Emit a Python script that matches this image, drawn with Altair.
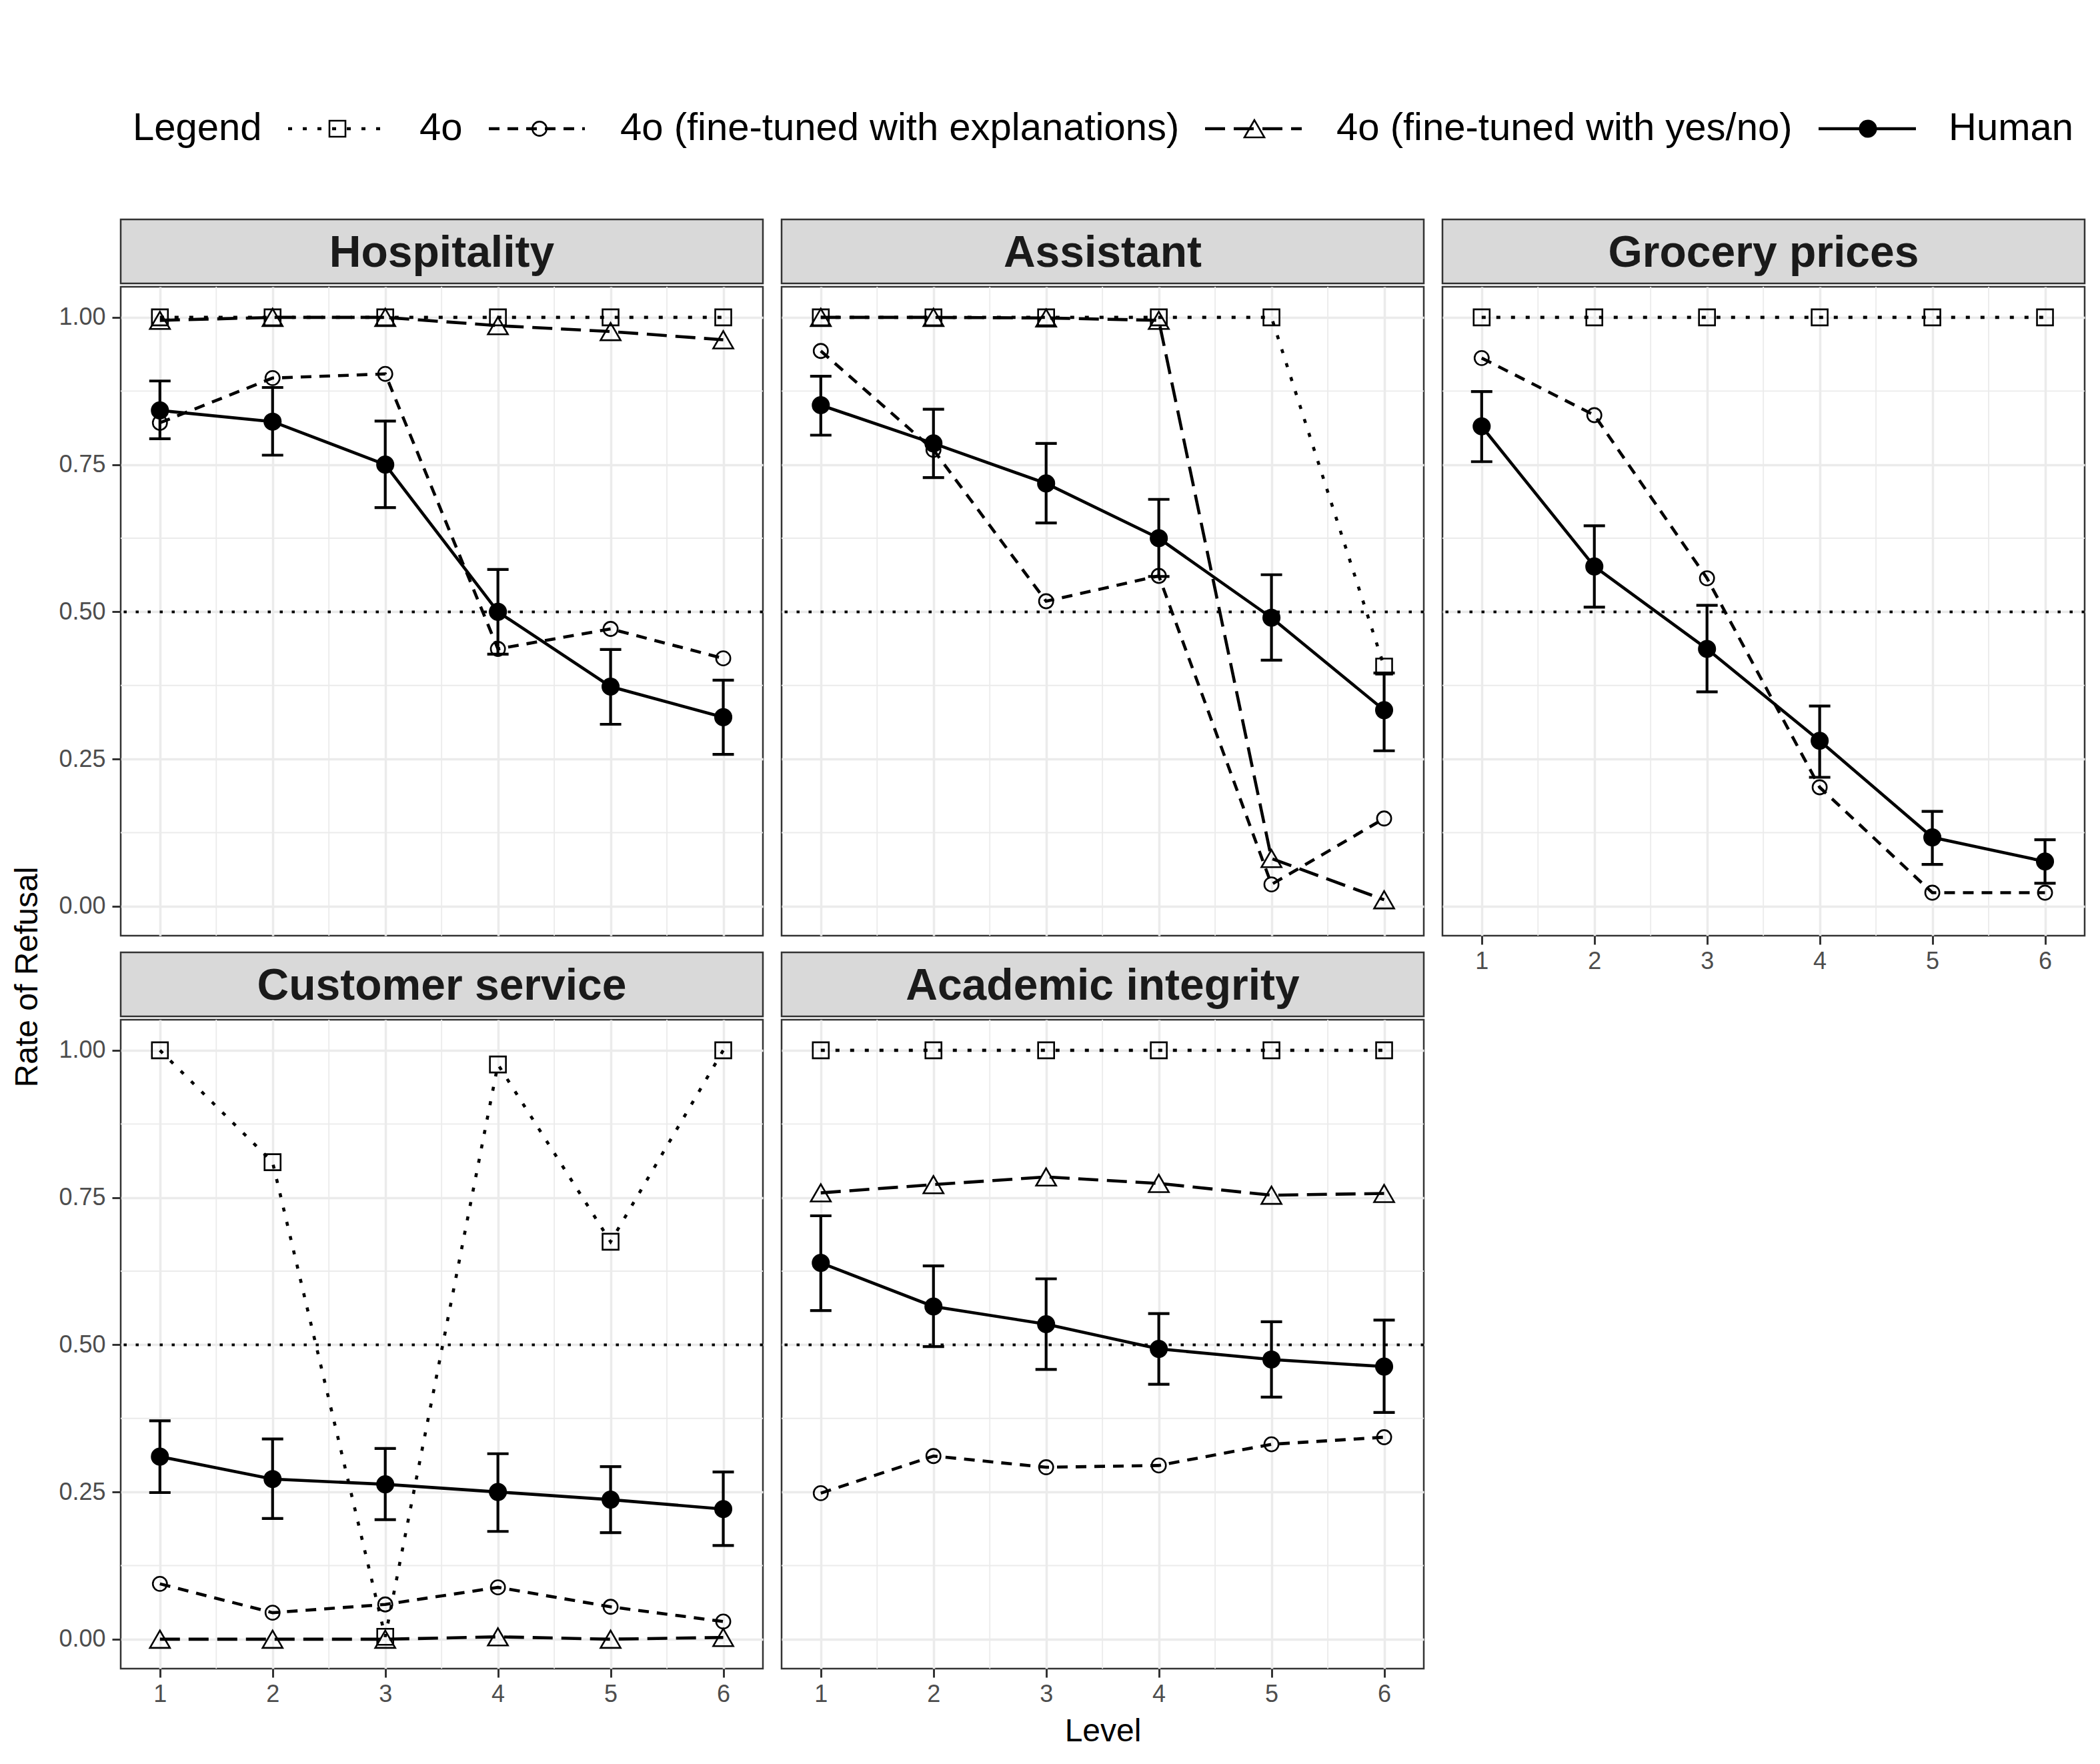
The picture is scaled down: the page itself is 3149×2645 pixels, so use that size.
import altair as alt
import pandas as pd

# ---------------- data ----------------
levels = [1, 2, 3, 4, 5, 6]
panel_names = ["Hospitality", "Assistant", "Grocery prices", "Customer service", "Academic integrity"]
S_4O = "4o"
S_EXP = "4o (fine-tuned with explanations)"
S_YN = "4o (fine-tuned with yes/no)"
S_HUM = "Human"

# Hospitality
hosp_4o = [1.0, 1.0, 1.0, 1.0, 1.0, 1.0]
hosp_exp = [0.821, 0.897, 0.904, 0.437, 0.471, 0.421]
hosp_yn = [0.995, 1.0, 1.0, 0.986, 0.976, 0.962]
hosp_hum = [0.842, 0.823, 0.750, 0.500, 0.373, 0.321]
hosp_hum_lo = [0.794, 0.766, 0.677, 0.428, 0.309, 0.258]
hosp_hum_hi = [0.892, 0.881, 0.824, 0.572, 0.436, 0.384]

# Assistant
asst_4o = [1.0, 1.0, 1.0, 1.0, 1.0, 0.407]
asst_exp = [0.943, 0.775, 0.518, 0.561, 0.037, 0.149]
asst_yn = [1.0, 1.0, 0.999, 0.995, 0.081, 0.011]
asst_hum = [0.851, 0.786, 0.718, 0.625, 0.490, 0.333]
asst_hum_lo = [0.800, 0.728, 0.651, 0.560, 0.418, 0.264]
asst_hum_hi = [0.900, 0.844, 0.786, 0.691, 0.563, 0.396]

# Grocery prices (no yes/no model)
groc_4o = [1.0, 1.0, 1.0, 1.0, 1.0, 1.0]
groc_exp = [0.931, 0.834, 0.557, 0.202, 0.023, 0.023]
groc_yn = []
groc_hum = [0.815, 0.577, 0.437, 0.281, 0.117, 0.076]
groc_hum_lo = [0.755, 0.508, 0.364, 0.219, 0.071, 0.039]
groc_hum_hi = [0.874, 0.646, 0.511, 0.340, 0.161, 0.113]

# Customer service
cust_4o = [1.0, 0.810, 0.004, 0.976, 0.675, 1.0]
cust_exp = [0.094, 0.045, 0.059, 0.088, 0.055, 0.030]
cust_yn = [0.0, 0.0, 0.0, 0.004, 0.0, 0.003]
cust_hum = [0.310, 0.272, 0.263, 0.250, 0.237, 0.221]
cust_hum_lo = [0.249, 0.205, 0.203, 0.183, 0.181, 0.159]
cust_hum_hi = [0.371, 0.340, 0.324, 0.315, 0.293, 0.284]

# Academic integrity
acad_4o = [1.0, 1.0, 1.0, 1.0, 1.0, 1.0]
acad_exp = [0.248, 0.311, 0.292, 0.295, 0.331, 0.343]
acad_yn = [0.758, 0.772, 0.785, 0.774, 0.754, 0.757]
acad_hum = [0.639, 0.565, 0.535, 0.493, 0.475, 0.463]
acad_hum_lo = [0.558, 0.497, 0.458, 0.433, 0.411, 0.385]
acad_hum_hi = [0.719, 0.634, 0.612, 0.553, 0.539, 0.542]

y_ticks = [0.0, 0.25, 0.5, 0.75, 1.0]
y_minor = [0.125, 0.375, 0.625, 0.875]
x_minor = [1.5, 2.5, 3.5, 4.5, 5.5]
ref_line = [0.5]

panel_data = {
    "Hospitality": (hosp_4o, hosp_exp, hosp_yn, hosp_hum, hosp_hum_lo, hosp_hum_hi),
    "Assistant": (asst_4o, asst_exp, asst_yn, asst_hum, asst_hum_lo, asst_hum_hi),
    "Grocery prices": (groc_4o, groc_exp, groc_yn, groc_hum, groc_hum_lo, groc_hum_hi),
    "Customer service": (cust_4o, cust_exp, cust_yn, cust_hum, cust_hum_lo, cust_hum_hi),
    "Academic integrity": (acad_4o, acad_exp, acad_yn, acad_hum, acad_hum_lo, acad_hum_hi),
}

# ---------------- style ----------------
FONT = "Liberation Sans"
GRID = "#EBEBEB"
BORDER = "#333333"
W, H, SH = 963, 973, 96
LW = 4.6

STYLE = {
    S_4O: dict(dash=[6, 16], shape="square", size=576, filled=False),
    S_EXP: dict(dash=[16, 12], shape="circle", size=452, filled=False),
    S_YN: dict(dash=[30, 13], shape="triangle-up", size=900, filled=False),
    S_HUM: dict(dash=[1, 0], shape="circle", size=735, filled=True),
}

XS = alt.Scale(domain=[0.652, 6.352], nice=False, zero=False)
YS = alt.Scale(domain=[-0.05, 1.052], nice=False, zero=False)


def x_axis(show, title):
    kw = dict(values=levels, grid=True, gridColor=GRID, gridWidth=3.5, domain=False,
              labels=show, ticks=show, format="d")
    if show:
        kw.update(tickColor=BORDER, tickSize=13, tickWidth=3, labelFontSize=36,
                  labelColor="#4D4D4D", labelFont=FONT, labelPadding=8)
    if title:
        kw.update(title=title, titleFontSize=48, titleFont=FONT, titleColor="black",
                  titleFontWeight="normal", titlePadding=14)
    else:
        kw["title"] = None
    return alt.Axis(**kw)


def y_axis(show):
    kw = dict(values=y_ticks, grid=True, gridColor=GRID, gridWidth=3.5, domain=False,
              labels=show, ticks=show, format=".2f", title=None)
    if show:
        kw.update(tickColor=BORDER, tickSize=13, tickWidth=3, labelFontSize=36,
                  labelColor="#4D4D4D", labelFont=FONT, labelPadding=10)
    return alt.Axis(**kw)


def make_plot(name, show_y, show_x, x_title):
    v4o, vexp, vyn, vhum, vlo, vhi = panel_data[name]
    xa = x_axis(show_x, x_title)
    ya = y_axis(show_y)

    def X(f):
        return alt.X(f"{f}:Q", scale=XS, axis=xa)

    def Y(f):
        return alt.Y(f"{f}:Q", scale=YS, axis=ya)

    layers = []
    layers.append(alt.Chart(pd.DataFrame({"level": x_minor})).mark_rule(
        color=GRID, strokeWidth=1.8).encode(x=X("level")))
    layers.append(alt.Chart(pd.DataFrame({"value": y_minor})).mark_rule(
        color=GRID, strokeWidth=1.8).encode(y=Y("value")))
    layers.append(alt.Chart(pd.DataFrame({"value": ref_line})).mark_rule(
        color="black", strokeWidth=4, strokeDash=[4.5, 13.5]).encode(y=Y("value")))

    series = [(S_4O, v4o), (S_EXP, vexp), (S_YN, vyn), (S_HUM, vhum)]
    for sname, vals in series:
        if not vals:
            continue
        st = STYLE[sname]
        df = pd.DataFrame({"level": levels, "value": vals})
        line_kw = dict(color="black", strokeWidth=LW)
        if sname != S_HUM:
            line_kw["strokeDash"] = st["dash"]
        layers.append(alt.Chart(df).mark_line(**line_kw).encode(x=X("level"), y=Y("value")))

    # human error bars
    edf = pd.DataFrame({"level": levels, "lo": vlo, "hi": vhi})
    layers.append(alt.Chart(edf).mark_rule(color="black", strokeWidth=4.2).encode(
        x=X("level"), y=Y("lo"), y2=alt.Y2("hi:Q")))
    layers.append(alt.Chart(edf).mark_tick(color="black", orient="horizontal", size=32,
                                           thickness=4.2, opacity=1).encode(x=X("level"), y=Y("lo")))
    layers.append(alt.Chart(edf).mark_tick(color="black", orient="horizontal", size=32,
                                           thickness=4.2, opacity=1).encode(x=X("level"), y=Y("hi")))

    for sname, vals in series:
        if not vals:
            continue
        st = STYLE[sname]
        df = pd.DataFrame({"level": levels, "value": vals})
        if st["filled"]:
            mk = alt.Chart(df).mark_point(shape=st["shape"], size=st["size"], filled=True,
                                          color="black", opacity=1, strokeWidth=0)
        else:
            mk = alt.Chart(df).mark_point(shape=st["shape"], size=st["size"], filled=False,
                                          color="black", opacity=1, strokeWidth=2.6)
        layers.append(mk.encode(x=X("level"), y=Y("value")))

    return alt.layer(*layers).properties(
        width=W, height=H,
        view=alt.ViewBackground(fill="white", stroke=BORDER, strokeWidth=2.5),
    )


def make_strip(name):
    return alt.Chart(pd.DataFrame({"t": [name]})).mark_text(
        font=FONT, fontSize=66, fontWeight="bold", color="#1A1A1A",
        align="center", baseline="middle",
    ).encode(text="t:N", x=alt.value(W / 2), y=alt.value(SH / 2 + 3)).properties(
        width=W, height=SH,
        view=alt.ViewBackground(fill="#D9D9D9", stroke=BORDER, strokeWidth=2.5),
    )


def panel(name, show_y, show_x, x_title=None):
    return alt.vconcat(make_strip(name), make_plot(name, show_y, show_x, x_title), spacing=0)


ROW_GAP = 20
col1 = alt.vconcat(panel("Hospitality", True, False),
                   panel("Customer service", True, True), spacing=ROW_GAP)
col2 = alt.vconcat(panel("Assistant", False, False),
                   panel("Academic integrity", False, True, "Level"), spacing=ROW_GAP)
col3 = alt.vconcat(panel("Grocery prices", False, True), spacing=ROW_GAP)

TOTAL_H = 2 * (SH + H) + ROW_GAP + 6
ytitle = alt.Chart(pd.DataFrame({"t": ["Rate of Refusal"]})).mark_text(
    font=FONT, fontSize=48, color="black", angle=270, align="center", baseline="middle"
).encode(text="t:N", x=alt.value(34), y=alt.value(1136)).properties(
    width=52, height=TOTAL_H, view=alt.ViewBackground(strokeOpacity=0, fillOpacity=0))

# ---------------- legend ----------------
LY = 185
LFS = 58
leg_layers = []
leg_layers.append(alt.Chart(pd.DataFrame({"t": ["Legend"]})).mark_text(
    font=FONT, fontSize=LFS, color="black", align="left", baseline="middle"
).encode(text="t:N", x=alt.value(191), y=alt.value(LY)))
leg_items = [
    (S_4O, 424, 570, 498, 621),
    (S_EXP, 725, 869, 801, 922),
    (S_YN, 1799, 1944, 1873, 1996),
    (S_HUM, 2719, 2865, 2793, 2914),
]
for sname, x0, x1, xm, xt in leg_items:
    st = STYLE[sname]
    d = pd.DataFrame({"t": [sname]})
    rk = dict(color="black", strokeWidth=LW)
    if sname != S_HUM:
        rk["strokeDash"] = st["dash"]
    leg_layers.append(alt.Chart(d).mark_rule(**rk).encode(
        x=alt.value(x0), x2=alt.value(x1), y=alt.value(LY)))
    if st["filled"]:
        pm = alt.Chart(d).mark_point(shape=st["shape"], size=st["size"], filled=True,
                                     color="black", opacity=1, strokeWidth=0)
    else:
        pm = alt.Chart(d).mark_point(shape=st["shape"], size=st["size"], filled=False,
                                     color="black", opacity=1, strokeWidth=2.6)
    leg_layers.append(pm.encode(x=alt.value(xm), y=alt.value(LY)))
    leg_layers.append(alt.Chart(d).mark_text(
        font=FONT, fontSize=LFS, color="black", align="left", baseline="middle"
    ).encode(text="t:N", x=alt.value(xt), y=alt.value(LY)))

legend = alt.layer(*leg_layers).properties(
    width=3115, height=300, view=alt.ViewBackground(strokeOpacity=0, fillOpacity=0))

grid = alt.hconcat(ytitle, col1, col2, col3, spacing=20)
chart = alt.vconcat(legend, grid, spacing=19).properties(padding=0).configure(
    font=FONT, background="white")

chart.save("out.html", embed_options={"renderer": "svg", "actions": False})
